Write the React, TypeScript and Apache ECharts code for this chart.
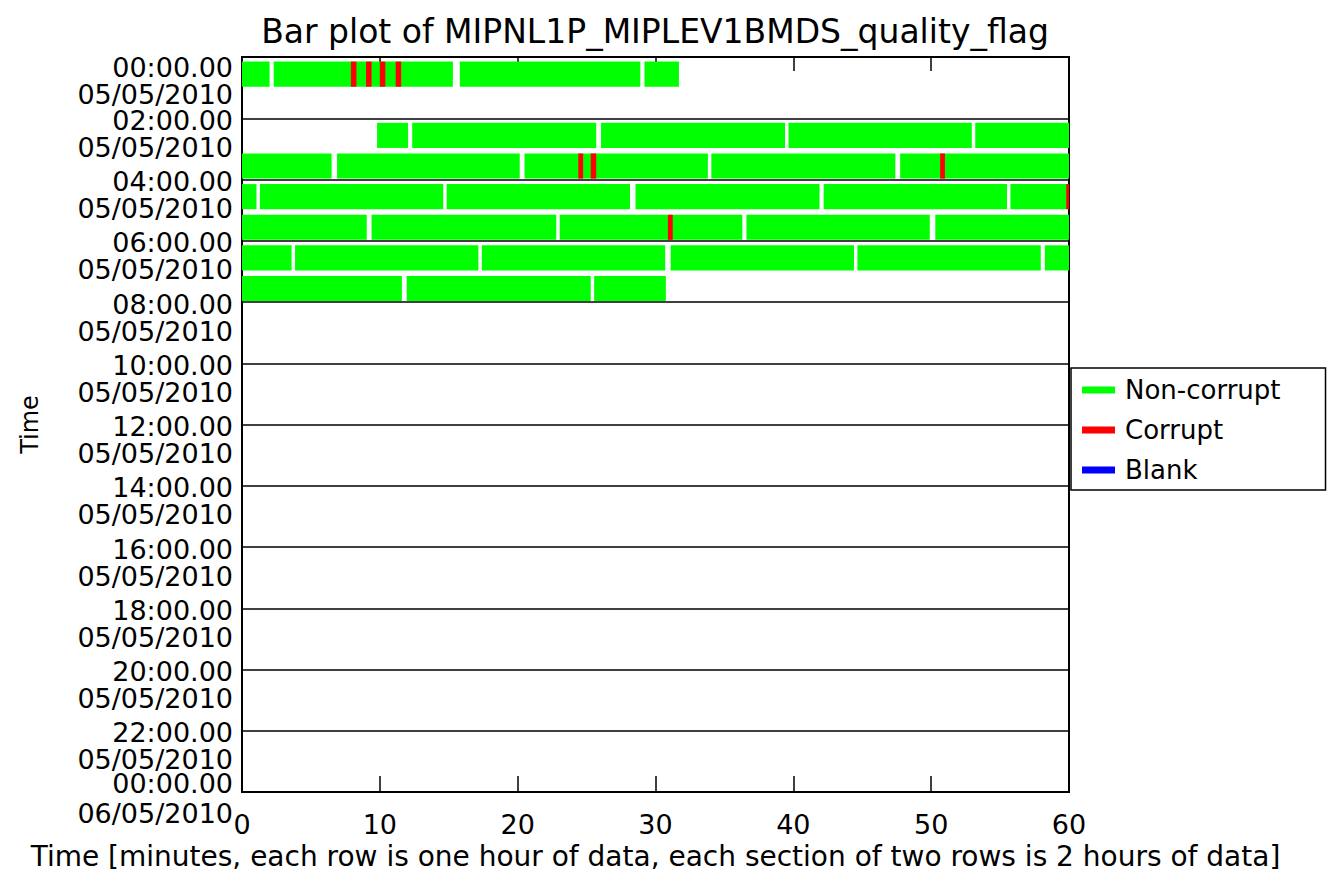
import React, { useEffect, useRef } from "react";
import * as echarts from "echarts";

const TITLE = "Bar plot of MIPNL1P_MIPLEV1BMDS_quality_flag";
const X_NAME =
  "Time [minutes, each row is one hour of data, each section of two rows is 2 hours of data]";
const Y_NAME = "Time";
const X_MIN = 0;
const X_MAX = 60;
const X_STEP = 10;
const SECTION_HOURS = [0, 2, 4, 6, 8, 10, 12, 14, 16, 18, 20, 22, 24];
const SECTION_TIMES = [
  "00:00.00", "02:00.00", "04:00.00", "06:00.00", "08:00.00", "10:00.00",
  "12:00.00", "14:00.00", "16:00.00", "18:00.00", "20:00.00", "22:00.00", "00:00.00",
];
const SECTION_DATES = [
  "05/05/2010", "05/05/2010", "05/05/2010", "05/05/2010", "05/05/2010", "05/05/2010",
  "05/05/2010", "05/05/2010", "05/05/2010", "05/05/2010", "05/05/2010", "05/05/2010", "06/05/2010",
];
const LEGEND_NAMES = ["Non-corrupt", "Corrupt", "Blank"];
const LEGEND_COLORS = ["#00ff00", "#ff0000", "#0000ff"];

// [hour row, start minute, end minute]
const nonCorrupt: number[][] = [
  [0, 0, 2.0], [0, 2.3, 15.3], [0, 15.8, 28.9], [0, 29.2, 31.7],
  [2, 9.8, 12.05], [2, 12.35, 25.7], [2, 26.05, 39.4], [2, 39.65, 52.95], [2, 53.2, 60],
  [3, 0, 6.5], [3, 6.9, 20.15], [3, 20.5, 33.8], [3, 34.05, 47.4], [3, 47.75, 60],
  [4, 0, 1.05], [4, 1.3, 14.6], [4, 14.85, 28.15], [4, 28.55, 41.9], [4, 42.2, 55.5], [4, 55.75, 60],
  [5, 0, 9.05], [5, 9.4, 22.8], [5, 23.05, 36.3], [5, 36.6, 49.9], [5, 50.3, 60],
  [6, 0, 3.6], [6, 3.85, 17.15], [6, 17.4, 30.7], [6, 31.1, 44.4], [6, 44.65, 57.95], [6, 58.25, 60],
  [7, 0, 11.6], [7, 11.95, 25.3], [7, 25.55, 30.75],
];
const corrupt: number[][] = [
  [0, 7.9, 8.3], [0, 9.0, 9.4], [0, 10.0, 10.4], [0, 11.15, 11.55],
  [3, 24.4, 24.75], [3, 25.3, 25.7], [3, 50.65, 51.0],
  [4, 59.8, 60],
  [5, 30.9, 31.25],
];
const blank: number[][] = [];

const FONT = "DejaVu Sans";
const LABEL_SIZE = 27;

function renderSeg(params: any, api: any) {
  const row = api.value(0);
  const s = api.value(1);
  const e = api.value(2);
  const p0 = api.coord([s, row + 0.15]);
  const p1 = api.coord([e, row + 0.97]);
  return {
    type: "rect",
    shape: { x: p0[0], y: p0[1], width: p1[0] - p0[0], height: p1[1] - p0[1] },
    style: { fill: api.visual("color") },
  };
}

const txt = (lh: number) => ({
  fontFamily: FONT,
  fontSize: LABEL_SIZE,
  lineHeight: lh,
  align: "right",
  color: "#000",
});

export default function App() {
  const ref = useRef<HTMLDivElement>(null);
  useEffect(() => {
    if (!ref.current) return;
    const chart = echarts.init(ref.current, null, { renderer: "svg" });
    const seriesData = [nonCorrupt, corrupt, blank];
    const last = SECTION_HOURS.length - 1;
    const yBase = {
      type: "value",
      min: SECTION_HOURS[0],
      max: SECTION_HOURS[last],
      interval: 2,
      inverse: true,
      position: "left",
      offset: 0,
    };
    const option: any = {
      animation: false,
      backgroundColor: "#fff",
      title: {
        text: TITLE,
        left: 650,
        textAlign: "center",
        top: 10,
        textStyle: { fontFamily: FONT, fontSize: 33, fontWeight: "normal", color: "#000" },
      },
      legend: {
        orient: "vertical",
        left: 1071,
        top: 368,
        selectedMode: false,
        data: LEGEND_NAMES.map((n) => ({ name: n, icon: "rect" })),
        itemWidth: 33,
        itemHeight: 7,
        itemGap: 14,
        textStyle: { fontFamily: FONT, fontSize: 26, lineHeight: 26, color: "#000", padding: [0, 0, 0, 5] },
        borderColor: "#000",
        borderWidth: 1.5,
        padding: [9, 45, 7, 11],
        backgroundColor: "#fff",
      },
      grid: {
        left: 242,
        right: 263,
        top: 57,
        bottom: 83,
        containLabel: false,
        outerBoundsMode: "none",
        show: true,
        borderColor: "#000",
        borderWidth: 2,
        backgroundColor: "transparent",
      },
      xAxis: [
        {
          type: "value",
          position: "bottom",
          min: X_MIN,
          max: X_MAX,
          interval: X_STEP,
          name: X_NAME,
          nameLocation: "middle",
          nameGap: 50,
          nameTextStyle: { fontFamily: FONT, fontSize: 28, color: "#000" },
          axisLine: { show: true, onZero: false, lineStyle: { color: "#000", width: 2 } },
          axisTick: { show: true, inside: true, length: 16, lineStyle: { color: "#000", width: 1.5 } },
          axisLabel: { fontFamily: FONT, fontSize: 27, color: "#000", margin: 19 },
          splitLine: { show: false },
        },
        {
          type: "value",
          position: "top",
          min: X_MIN,
          max: X_MAX,
          interval: X_STEP,
          axisLine: { show: true, onZero: false, lineStyle: { color: "#000", width: 2 } },
          axisTick: { show: true, inside: true, length: 14, lineStyle: { color: "#000", width: 1.5 } },
          axisLabel: { show: false },
          splitLine: { show: false },
        },
      ],
      yAxis: [
        {
          ...yBase,
          name: Y_NAME,
          nameLocation: "middle",
          nameGap: 200,
          nameTextStyle: { fontFamily: FONT, fontSize: 24, color: "#000" },
          axisLine: { show: true, onZero: false, lineStyle: { color: "#000", width: 2 } },
          axisTick: { show: false },
          splitLine: { show: true, lineStyle: { color: "#000", width: 1.5 } },
          axisLabel: {
            margin: 9,
            color: "#000",
            fontFamily: FONT,
            fontSize: LABEL_SIZE,
            verticalAlign: "top",
            showMinLabel: false,
            showMaxLabel: false,
            formatter: (v: number) => {
              const i = SECTION_HOURS.indexOf(v);
              if (i <= 0 || i === last) return "";
              return `{t|${SECTION_TIMES[i]}}\n{d|${SECTION_DATES[i]}}`;
            },
            rich: {
              t: txt(4),
              d: txt(50),
            },
          },
        },
        {
          ...yBase,
          axisLine: { show: false },
          axisTick: { show: false },
          splitLine: { show: false },
          axisLabel: {
            margin: 9,
            color: "#000",
            fontFamily: FONT,
            fontSize: LABEL_SIZE,
            verticalAlign: "middle",
            showMinLabel: true,
            showMaxLabel: true,
            formatter: (v: number) => {
              const i = SECTION_HOURS.indexOf(v);
              if (i === 0) {
                return `{sF| }\n{tF|${SECTION_TIMES[i]}}\n{dF|${SECTION_DATES[i]}}`;
              }
              if (i === last) {
                return `{sL| }\n{tL|${SECTION_TIMES[i]}}\n{dL|${SECTION_DATES[i]}}`;
              }
              return "";
            },
            rich: {
              sF: { fontSize: 2, lineHeight: 47 },
              tF: txt(27),
              dF: txt(27),
              sL: { fontSize: 2, lineHeight: 12 },
              tL: txt(30),
              dL: txt(30),
            },
          },
        },
      ],
      series: LEGEND_NAMES.map((name, k) => ({
        name,
        type: "custom",
        xAxisIndex: 0,
        yAxisIndex: 0,
        clip: true,
        itemStyle: { color: LEGEND_COLORS[k] },
        encode: { x: [1, 2], y: 0 },
        renderItem: renderSeg,
        data: seriesData[k],
      })),
    };
    chart.setOption(option);
    return () => chart.dispose();
  }, []);
  return (
    <div
      ref={ref}
      style={{ position: "fixed", left: 0, top: 0, width: 1332, height: 875, background: "#fff" }}
    />
  );
}
